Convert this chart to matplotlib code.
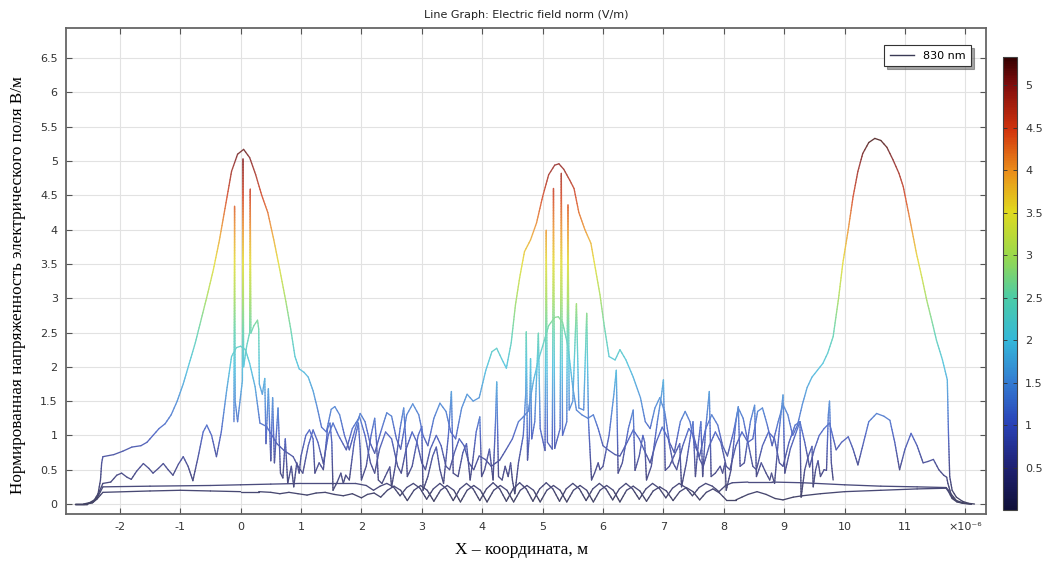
import matplotlib
matplotlib.use("Agg")
import matplotlib.pyplot as plt
import numpy as np
from matplotlib.collections import LineCollection
from matplotlib.colors import LinearSegmentedColormap, Normalize
from matplotlib.cm import ScalarMappable
from matplotlib.lines import Line2D

# x in um (axis shows x10^-6 m), y = normalised field norm
# main envelope, three big lobes
env_pts = [(-2.75, 0.0), (-2.6, 0.0), (-2.5, 0.02), (-2.42, 0.06), (-2.36, 0.15), (-2.32, 0.35),
           (-2.3, 0.6), (-2.28, 0.69), (-2.1, 0.72), (-1.95, 0.77), (-1.8, 0.83), (-1.65, 0.85),
           (-1.55, 0.9), (-1.45, 1.0), (-1.35, 1.1), (-1.25, 1.17), (-1.15, 1.3), (-1.05, 1.5),
           (-0.95, 1.75), (-0.85, 2.05), (-0.75, 2.35), (-0.65, 2.7), (-0.55, 3.05), (-0.45, 3.42),
           (-0.35, 3.85), (-0.25, 4.35), (-0.15, 4.85), (-0.05, 5.1), (0.05, 5.17), (0.15, 5.05),
           (0.25, 4.8), (0.35, 4.5), (0.45, 4.25), (0.55, 3.85), (0.65, 3.41), (0.75, 2.95),
           (0.83, 2.55), (0.9, 2.15), (0.97, 1.97), (1.05, 1.92), (1.12, 1.85), (1.2, 1.65),
           (1.27, 1.4), (1.34, 1.12), (1.42, 1.05), (1.5, 1.38), (1.56, 1.42), (1.64, 1.3),
           (1.72, 1.0), (1.8, 0.79), (1.9, 1.1), (1.98, 1.32), (2.06, 1.2), (2.14, 0.9),
           (2.22, 0.74), (2.32, 1.05), (2.42, 1.33), (2.5, 1.28), (2.58, 0.95), (2.65, 0.8),
           (2.75, 1.3), (2.85, 1.46), (2.95, 1.3), (3.02, 1.0), (3.1, 0.85), (3.2, 1.25),
           (3.3, 1.47), (3.4, 1.35), (3.48, 1.05), (3.56, 0.95), (3.66, 1.4), (3.75, 1.6),
           (3.85, 1.5), (3.95, 1.55), (4.06, 1.95), (4.16, 2.22), (4.24, 2.27), (4.32, 2.12),
           (4.4, 1.98), (4.48, 2.35), (4.55, 2.9), (4.62, 3.3), (4.7, 3.68), (4.8, 3.85),
           (4.9, 4.1), (5.0, 4.48), (5.1, 4.8), (5.2, 4.94), (5.27, 4.96), (5.35, 4.88),
           (5.45, 4.72), (5.52, 4.6), (5.6, 4.25), (5.7, 4.0), (5.8, 3.8), (5.88, 3.4),
           (5.95, 3.05), (6.02, 2.6), (6.1, 2.15), (6.2, 2.1), (6.28, 2.25), (6.38, 2.1),
           (6.5, 1.85), (6.62, 1.55), (6.7, 1.2), (6.78, 1.1), (6.86, 1.4), (6.94, 1.55),
           (7.02, 1.35), (7.1, 0.9), (7.18, 0.75), (7.28, 1.2), (7.36, 1.35), (7.44, 1.2),
           (7.52, 0.85), (7.6, 0.7), (7.7, 1.1), (7.8, 1.3), (7.9, 1.15), (7.98, 0.85),
           (8.06, 0.7), (8.16, 1.05), (8.24, 1.4), (8.32, 1.25), (8.4, 0.9), (8.48, 0.95),
           (8.56, 1.35), (8.64, 1.4), (8.72, 1.15), (8.8, 0.85), (8.9, 1.2), (8.98, 1.45),
           (9.06, 1.3), (9.14, 1.0), (9.22, 1.15), (9.3, 1.45), (9.38, 1.7), (9.46, 1.85),
           (9.55, 1.95), (9.64, 2.05), (9.72, 2.2), (9.81, 2.44), (9.9, 3.0), (9.97, 3.51),
           (10.06, 4.0), (10.14, 4.48), (10.22, 4.85), (10.3, 5.11), (10.4, 5.27), (10.5, 5.33),
           (10.6, 5.3), (10.7, 5.2), (10.8, 5.02), (10.9, 4.82), (10.97, 4.63), (11.08, 4.15),
           (11.19, 3.65), (11.28, 3.3), (11.36, 2.97), (11.45, 2.65), (11.52, 2.39), (11.62, 2.1),
           (11.7, 1.81), (11.72, 1.0), (11.74, 0.4), (11.78, 0.2), (11.85, 0.1), (11.95, 0.04),
           (12.05, 0.01), (12.15, 0.0)]

# second curve (lobes ~2.3 / 2.7 / 1.3)
mid_pts = [(-2.75, 0.0), (-2.55, 0.0), (-2.45, 0.03), (-2.38, 0.1), (-2.33, 0.2), (-2.28, 0.3),
           (-2.15, 0.32), (-2.05, 0.42), (-1.97, 0.45), (-1.88, 0.39), (-1.81, 0.36), (-1.72, 0.48),
           (-1.61, 0.59), (-1.52, 0.52), (-1.45, 0.45), (-1.36, 0.52), (-1.28, 0.59), (-1.2, 0.5),
           (-1.12, 0.42), (-1.03, 0.58), (-0.95, 0.69), (-0.87, 0.55), (-0.79, 0.34), (-0.7, 0.7),
           (-0.62, 1.05), (-0.56, 1.15), (-0.48, 1.0), (-0.4, 0.69), (-0.32, 1.05), (-0.23, 1.66),
           (-0.15, 2.15), (-0.07, 2.28), (0.0, 2.3), (0.08, 2.25), (0.15, 2.05), (0.24, 1.71),
           (0.32, 1.18), (0.43, 1.13), (0.52, 1.0), (0.6, 0.88), (0.72, 0.78), (0.87, 0.69),
           (0.95, 0.55), (1.03, 0.45), (1.12, 0.85), (1.2, 1.08), (1.28, 0.9), (1.37, 0.59),
           (1.45, 1.0), (1.53, 1.18), (1.62, 1.0), (1.75, 0.79), (1.85, 1.1), (1.97, 1.27),
           (2.06, 1.0), (2.15, 0.6), (2.22, 0.45), (2.3, 0.8), (2.4, 1.05), (2.5, 0.95),
           (2.6, 0.55), (2.66, 0.45), (2.74, 0.8), (2.84, 1.05), (2.92, 0.9), (3.0, 0.6),
           (3.06, 0.5), (3.14, 0.8), (3.24, 1.0), (3.32, 0.85), (3.4, 0.55), (3.46, 0.5),
           (3.54, 0.75), (3.62, 0.95), (3.7, 0.85), (3.78, 0.6), (3.86, 0.5), (3.95, 0.7),
           (4.05, 0.65), (4.15, 0.55), (4.29, 0.64), (4.4, 0.8), (4.5, 0.95), (4.6, 1.2),
           (4.68, 1.27), (4.76, 1.35), (4.85, 1.8), (4.93, 2.1), (5.0, 2.3), (5.1, 2.6),
           (5.2, 2.72), (5.26, 2.73), (5.33, 2.65), (5.42, 2.3), (5.5, 1.7), (5.56, 1.37),
           (5.65, 1.3), (5.75, 1.25), (5.84, 1.3), (5.92, 1.1), (6.0, 0.85), (6.1, 0.78),
           (6.2, 0.72), (6.28, 0.7), (6.4, 0.9), (6.5, 1.08), (6.6, 0.95), (6.7, 0.75),
           (6.78, 0.6), (6.88, 0.9), (6.98, 1.12), (7.08, 0.95), (7.16, 0.6), (7.22, 0.5),
           (7.32, 0.85), (7.42, 1.1), (7.5, 1.0), (7.6, 0.65), (7.66, 0.55), (7.76, 0.85),
           (7.86, 1.05), (7.95, 0.9), (8.04, 0.55), (8.1, 0.5), (8.2, 0.85), (8.3, 1.05),
           (8.4, 0.9), (8.48, 0.55), (8.54, 0.5), (8.64, 0.85), (8.74, 1.05), (8.84, 0.95),
           (8.92, 0.6), (8.98, 0.55), (9.08, 0.9), (9.18, 1.15), (9.26, 1.2), (9.34, 0.9),
           (9.42, 0.54), (9.5, 0.8), (9.58, 1.0), (9.66, 1.1), (9.75, 1.18), (9.86, 0.79),
           (9.95, 0.9), (10.06, 0.98), (10.14, 0.8), (10.22, 0.57), (10.3, 0.85), (10.4, 1.2),
           (10.53, 1.32), (10.65, 1.28), (10.75, 1.22), (10.83, 0.9), (10.91, 0.5), (11.0, 0.8),
           (11.1, 1.03), (11.2, 0.85), (11.3, 0.6), (11.38, 0.62), (11.47, 0.65), (11.56, 0.5),
           (11.64, 0.42), (11.69, 0.39), (11.71, 0.3), (11.76, 0.15), (11.85, 0.05), (11.95, 0.02),
           (12.1, 0.0)]

# spiky curve (jumps at the grating boundaries)
spike_pts = [(-0.11, 1.2), (-0.1, 4.34), (-0.09, 1.5), (-0.05, 1.2), (0.03, 1.8), (0.04, 5.03),
             (0.05, 2.0), (0.1, 2.3), (0.15, 2.5), (0.16, 4.59), (0.17, 2.49), (0.22, 2.6),
             (0.28, 2.68), (0.3, 2.55), (0.31, 1.75), (0.36, 1.6), (0.4, 1.83), (0.42, 0.88),
             (0.46, 1.68), (0.5, 0.63), (0.53, 1.55), (0.56, 0.6), (0.62, 1.4), (0.66, 0.45),
             (0.7, 0.38), (0.74, 0.95), (0.78, 0.3), (0.84, 0.55), (0.88, 0.25), (0.93, 0.6),
             (0.97, 0.45), (1.0, 0.7), (1.08, 1.0), (1.14, 1.08), (1.2, 0.95), (1.23, 0.45),
             (1.3, 0.6), (1.37, 0.5), (1.44, 1.1), (1.48, 1.18), (1.51, 0.9), (1.53, 0.2),
             (1.6, 0.32), (1.66, 0.45), (1.7, 0.3), (1.74, 0.42), (1.8, 0.35), (1.88, 0.9),
             (1.95, 1.18), (1.98, 0.8), (2.0, 0.35), (2.08, 0.55), (2.16, 1.0), (2.22, 1.25),
             (2.25, 0.9), (2.28, 0.35), (2.34, 0.3), (2.42, 0.45), (2.47, 0.54), (2.5, 0.25),
             (2.56, 0.55), (2.64, 1.1), (2.7, 1.4), (2.73, 1.0), (2.76, 0.4), (2.84, 0.55),
             (2.94, 1.0), (3.0, 1.13), (3.02, 0.2), (3.1, 0.4), (3.18, 0.7), (3.24, 0.83),
             (3.3, 0.5), (3.36, 0.3), (3.44, 1.0), (3.49, 1.64), (3.52, 0.45), (3.6, 0.4),
             (3.68, 0.75), (3.74, 0.88), (3.8, 0.35), (3.84, 0.6), (3.9, 1.05), (3.96, 1.27),
             (3.99, 0.4), (4.04, 0.5), (4.12, 0.8), (4.18, 0.35), (4.22, 1.2), (4.24, 1.78),
             (4.27, 0.4), (4.33, 0.35), (4.38, 0.55), (4.43, 0.4), (4.47, 0.6), (4.5, 0.35),
             (4.54, 0.15), (4.6, 0.6), (4.68, 1.0), (4.72, 1.6), (4.73, 2.51), (4.75, 0.64),
             (4.78, 1.0), (4.8, 2.12), (4.82, 0.95), (4.87, 1.2), (4.93, 2.49), (4.96, 1.1),
             (5.04, 0.78), (5.06, 3.99), (5.08, 0.9), (5.16, 0.8), (5.18, 4.6), (5.2, 0.81),
             (5.29, 1.1), (5.31, 4.82), (5.33, 1.0), (5.4, 1.2), (5.42, 4.36), (5.44, 1.37),
             (5.5, 1.5), (5.56, 2.92), (5.6, 1.4), (5.68, 1.37), (5.73, 2.78), (5.76, 1.2),
             (5.81, 0.35), (5.86, 0.45), (5.92, 0.6), (5.95, 0.5), (6.0, 0.55), (6.1, 1.0),
             (6.18, 1.6), (6.22, 1.95), (6.25, 0.45), (6.32, 0.6), (6.42, 1.1), (6.5, 1.37),
             (6.53, 0.49), (6.6, 0.7), (6.66, 1.0), (6.69, 0.9), (6.72, 0.35), (6.8, 0.55),
             (6.9, 1.2), (6.97, 1.6), (7.0, 1.81), (7.03, 0.49), (7.1, 0.55), (7.2, 0.75),
             (7.27, 0.88), (7.3, 0.25), (7.38, 0.6), (7.45, 1.0), (7.49, 1.2), (7.53, 0.4),
             (7.58, 0.9), (7.62, 1.2), (7.65, 0.4), (7.7, 1.1), (7.76, 1.64), (7.79, 0.4),
             (7.86, 0.45), (7.94, 0.55), (7.98, 0.45), (8.02, 0.6), (8.04, 0.2), (8.12, 0.5),
             (8.2, 1.2), (8.24, 1.42), (8.27, 0.55), (8.34, 0.6), (8.44, 1.2), (8.51, 1.44),
             (8.54, 0.4), (8.62, 0.6), (8.7, 0.45), (8.76, 0.35), (8.79, 0.45), (8.84, 0.3),
             (8.92, 1.1), (8.98, 1.59), (9.01, 0.45), (9.1, 0.8), (9.2, 1.05), (9.26, 1.2),
             (9.28, 0.1), (9.34, 0.5), (9.4, 0.7), (9.46, 0.84), (9.48, 0.25), (9.52, 0.5),
             (9.56, 0.63), (9.6, 0.4), (9.66, 0.5), (9.7, 0.49), (9.73, 1.3), (9.75, 1.5),
             (9.78, 0.6), (9.81, 0.35)]

# two weak curves near the bottom
low_pts = [(-2.75, 0.0), (-2.55, 0.0), (-2.45, 0.02), (-2.38, 0.08), (-2.32, 0.18), (-2.28, 0.25),
           (-1.5, 0.26), (-0.5, 0.27), (0.0, 0.28), (0.5, 0.29), (1.0, 0.3), (1.5, 0.3),
           (1.9, 0.3), (2.08, 0.27), (2.2, 0.2), (2.31, 0.26), (2.42, 0.3), (2.53, 0.25),
           (2.64, 0.12), (2.75, 0.24), (2.86, 0.3), (2.97, 0.23), (3.08, 0.07), (3.19, 0.22),
           (3.3, 0.3), (3.41, 0.22), (3.52, 0.05), (3.63, 0.22), (3.74, 0.3), (3.85, 0.22),
           (3.96, 0.05), (4.07, 0.22), (4.18, 0.31), (4.29, 0.22), (4.4, 0.04), (4.51, 0.22),
           (4.62, 0.31), (4.73, 0.22), (4.84, 0.04), (4.95, 0.22), (5.06, 0.31), (5.17, 0.22),
           (5.28, 0.04), (5.39, 0.22), (5.5, 0.3), (5.61, 0.22), (5.72, 0.05), (5.83, 0.22),
           (5.94, 0.3), (6.05, 0.22), (6.16, 0.06), (6.27, 0.22), (6.38, 0.3), (6.49, 0.22),
           (6.6, 0.07), (6.71, 0.22), (6.82, 0.3), (6.93, 0.23), (7.04, 0.09), (7.15, 0.23),
           (7.26, 0.3), (7.37, 0.24), (7.48, 0.12), (7.59, 0.24), (7.7, 0.3), (7.81, 0.26),
           (7.92, 0.18), (8.03, 0.27), (8.14, 0.31), (8.4, 0.32), (8.8, 0.32), (9.3, 0.31),
           (10.0, 0.28), (10.6, 0.26), (11.2, 0.25), (11.68, 0.24), (11.72, 0.2), (11.78, 0.1),
           (11.86, 0.04), (11.96, 0.01), (12.1, 0.0)]

base_pts = [(-2.75, 0.0), (-2.55, 0.0), (-2.45, 0.02), (-2.38, 0.07), (-2.32, 0.13), (-2.28, 0.17),
            (-1.5, 0.19), (-1.0, 0.2), (-0.5, 0.19), (0.0, 0.18), (0.3, 0.18), (0.5, 0.17),
            (0.65, 0.15), (0.8, 0.17), (0.95, 0.15), (1.1, 0.13), (1.25, 0.16), (1.4, 0.17),
            (1.55, 0.14), (1.7, 0.12), (1.85, 0.15), (2.0, 0.09), (2.1, 0.14), (2.21, 0.16),
            (2.32, 0.1), (2.43, 0.2), (2.54, 0.26), (2.65, 0.2), (2.76, 0.05), (2.87, 0.2),
            (2.98, 0.27), (3.09, 0.2), (3.2, 0.04), (3.31, 0.2), (3.42, 0.27), (3.53, 0.2),
            (3.64, 0.03), (3.75, 0.2), (3.86, 0.27), (3.97, 0.2), (4.08, 0.03), (4.19, 0.2),
            (4.3, 0.27), (4.41, 0.2), (4.52, 0.03), (4.63, 0.2), (4.74, 0.27), (4.85, 0.2),
            (4.96, 0.03), (5.07, 0.2), (5.18, 0.27), (5.29, 0.2), (5.4, 0.03), (5.51, 0.2),
            (5.62, 0.27), (5.73, 0.2), (5.84, 0.03), (5.95, 0.2), (6.06, 0.27), (6.17, 0.2),
            (6.28, 0.03), (6.39, 0.2), (6.5, 0.26), (6.61, 0.19), (6.72, 0.04), (6.83, 0.19),
            (6.94, 0.25), (7.05, 0.19), (7.16, 0.05), (7.27, 0.18), (7.38, 0.24), (7.49, 0.18),
            (7.6, 0.06), (7.71, 0.17), (7.82, 0.22), (7.93, 0.16), (8.04, 0.06), (8.2, 0.06),
            (8.4, 0.14), (8.55, 0.18), (8.7, 0.14), (8.85, 0.08), (8.98, 0.06), (9.15, 0.1),
            (9.3, 0.12), (9.6, 0.15), (10.0, 0.18), (10.6, 0.2), (11.2, 0.22), (11.68, 0.23),
            (11.72, 0.18), (11.78, 0.08), (11.86, 0.03), (11.96, 0.01), (12.1, 0.0)]

x_ticks = list(range(-2, 13))
x_labels = [str(v) for v in range(-2, 12)] + ["×10⁻⁶"]
y_ticks = [0, 0.5, 1, 1.5, 2, 2.5, 3, 3.5, 4, 4.5, 5, 5.5, 6, 6.5]
cb_ticks = [0.5, 1, 1.5, 2, 2.5, 3, 3.5, 4, 4.5, 5]

stops = [(0.0, (0.06, 0.06, 0.22)),
         (0.094, (0.12, 0.13, 0.45)),
         (0.19, (0.16, 0.26, 0.72)),
         (0.28, (0.2, 0.48, 0.82)),
         (0.375, (0.2, 0.72, 0.85)),
         (0.47, (0.3, 0.8, 0.65)),
         (0.56, (0.6, 0.85, 0.3)),
         (0.66, (0.88, 0.85, 0.12)),
         (0.75, (0.92, 0.55, 0.1)),
         (0.84, (0.82, 0.2, 0.05)),
         (0.94, (0.5, 0.05, 0.05)),
         (1.0, (0.2, 0.0, 0.0))]
cmap = LinearSegmentedColormap.from_list("field", stops)
# thin lines look a bit washed out in the original
line_cmap = LinearSegmentedColormap.from_list(
    "field_lines", [(p, tuple(0.78 * c + 0.22 for c in rgb)) for p, rgb in stops])
norm = Normalize(0, 5.33)

fig = plt.figure(figsize=(10.45, 5.63), dpi=100)
ax = fig.add_axes([0.0632, 0.087, 0.8803, 0.8633])

for pts in [base_pts, low_pts, mid_pts, spike_pts, env_pts]:
    xy = np.array(pts)
    # cut each segment into short pieces so the colour follows the value
    segs = []
    vals = []
    for (x0, y0), (x1, y1) in zip(xy[:-1], xy[1:]):
        n = max(1, int(abs(y1 - y0) / 0.04))
        t = np.linspace(0, 1, n + 1)
        xs = x0 + (x1 - x0) * t
        ys = y0 + (y1 - y0) * t
        for k in range(n):
            segs.append([(xs[k], ys[k]), (xs[k + 1], ys[k + 1])])
            vals.append((ys[k] + ys[k + 1]) / 2)
    lc = LineCollection(segs, cmap=line_cmap, norm=norm, linewidths=0.95, capstyle="round")
    lc.set_array(np.array(vals))
    ax.add_collection(lc)

ax.set_xlim(-2.89, 12.34)
ax.set_ylim(-0.146, 6.94)
ax.set_xticks(x_ticks)
ax.set_xticklabels(x_labels)
ax.set_yticks(y_ticks)
ax.set_yticklabels(["%g" % v for v in y_ticks])
ax.tick_params(direction="in", top=True, right=True, length=4, width=0.8,
               color="#555555", labelsize=8, labelcolor="#333333", pad=6)
ax.grid(True, color="#e2e2e2", linewidth=0.8)
ax.set_axisbelow(True)
for s in ax.spines.values():
    s.set_color("#666666")
    s.set_linewidth(1.3)

ax.set_title("Line Graph: Electric field norm (V/m)", fontsize=8, color="#222222", pad=7)

h = Line2D([], [], color="#3a3a55", linewidth=1.0)
leg = ax.legend([h], ["830 nm"], loc="upper right", bbox_to_anchor=(0.99, 0.976),
                fontsize=8, fancybox=False, shadow=True, framealpha=1,
                edgecolor="#333333", handlelength=2.2, borderpad=0.5)
leg.get_frame().set_linewidth(0.8)

fig.text(0.0172, 0.494, "Нормированная напряженность электрического поля В/м",
         rotation=90, ha="center", va="center", fontsize=12.3, family="Liberation Serif")
fig.text(0.4995, 0.023, "X – координата, м", ha="center", va="center",
         fontsize=12.5, family="Liberation Serif")

cax = fig.add_axes([0.9598, 0.0941, 0.0134, 0.8047])
sm = ScalarMappable(norm=norm, cmap=cmap)
cb = fig.colorbar(sm, cax=cax, ticks=cb_ticks)
cb.ax.set_yticklabels(["%g" % v for v in cb_ticks])
cb.ax.tick_params(direction="in", left=True, right=True, length=3, width=0.6,
                  color="#333333", labelsize=8, labelcolor="#333333", pad=6)
cb.outline.set_edgecolor("#444444")
cb.outline.set_linewidth(0.8)

plt.savefig("out.png", dpi=100)
plt.close(fig)
